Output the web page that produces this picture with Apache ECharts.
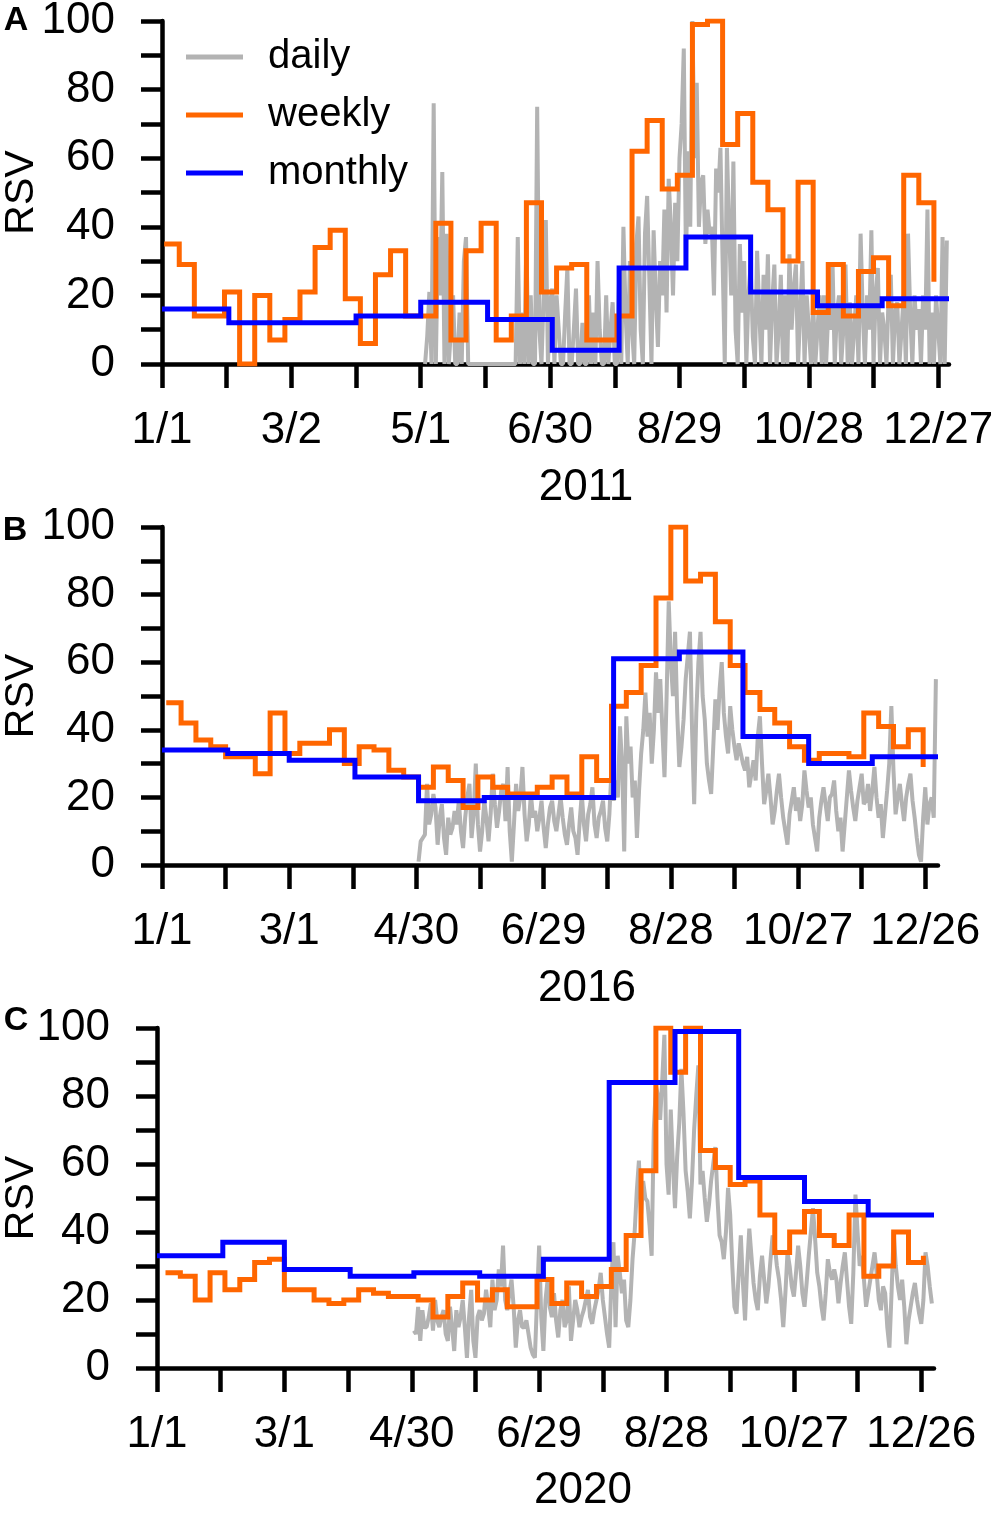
<!DOCTYPE html>
<html>
<head>
<meta charset="utf-8">
<script src="https://cdn.jsdelivr.net/npm/echarts@6/dist/echarts.min.js"></script>
<style>
  html, body { margin: 0; padding: 0; background: #fff; }
  #main { width: 995px; height: 1523px; }
</style>
</head>
<body>
<div id="main"></div>
<script>
// ---- data (day index: 0 = Jan 1) ----
const ticks2011 = ["1/1", "3/2", "5/1", "6/30", "8/29", "10/28", "12/27"];
const ticks2016 = ["1/1", "3/1", "4/30", "6/29", "8/28", "10/27", "12/26"];
const ticks2020 = ["1/1", "3/1", "4/30", "6/29", "8/28", "10/27", "12/26"];

const monthly2011 = [16, 12, 12, 14, 18, 13, 4, 28, 37, 21, 17, 19];
const monthly2016 = [34, 33, 31, 26, 19, 20, 20, 61, 63, 38, 30, 32];
const monthly2020 = [33, 37, 29, 27, 28, 27, 32, 84, 99, 56, 49, 45];

// one value per week, first one on the first Sunday of the year
const weekly2011 = [35, 29, 14, 14, 21, 0, 20, 7, 13, 21, 34, 39, 19, 6, 26, 33, 14, 14, 41, 7,
  33, 41, 7, 14, 47, 21, 28, 29, 7, 7, 14, 62, 71, 51, 55, 99, 100, 64, 73, 53,
  45, 30, 53, 15, 29, 14, 27, 31, 17, 55, 47, 24];
const weekly2016 = [48, 42, 37, 35, 32, 32, 27, 45, 33, 36, 36, 40, 30, 35, 34, 28, 26, 23, 29, 25,
  17, 26, 23, 21, 21, 23, 26, 21, 32, 25, 47, 51, 59, 79, 100, 84, 86, 72, 59, 51,
  46, 42, 35, 31, 33, 33, 32, 45, 41, 35, 40, 29];
const weekly2020 = [28, 27, 20, 28, 23, 26, 31, 32, 23, 23, 20, 19, 20, 23, 22, 21, 21, 20, 15, 21,
  25, 20, 23, 18, 18, 26, 19, 25, 21, 24, 29, 39, 58, 100, 87, 100, 64, 59, 54, 55,
  45, 34, 40, 46, 39, 36, 45, 27, 30, 40, 31, 33];

// daily values start at this day index
const dailyStart2011 = 122;
const daily2011 = [
  0, 8, 21, 0, 76, 0, 37, 20, 56, 0,
  38, 0, 10, 20, 0, 0, 15, 0, 30, 37,
  0, 0, 0, 0, 0, 0, 0, 0, 0, 0,
  0, 0, 0, 0, 0, 0, 0, 0, 0, 0,
  0, 0, 0, 37, 0, 15, 0, 36, 0, 20,
  0, 0, 75, 10, 0, 20, 42, 0, 18, 22,
  0, 20, 10, 0, 0, 15, 28, 0, 0, 10,
  22, 0, 0, 12, 0, 0, 20, 0, 15, 0,
  30, 10, 0, 0, 20, 0, 10, 18, 0, 0,
  25, 0, 40, 15, 0, 30, 10, 0, 35, 43,
  10, 0, 38, 49, 25, 0, 39, 20, 5, 30,
  20, 45, 15, 54, 40, 20, 47, 30, 60, 70,
  92, 30, 62, 40, 100, 60, 82, 40, 53, 55,
  35, 45, 38, 40, 20, 57, 50, 63, 30, 0,
  63, 40, 20, 59, 10, 0, 35, 15, 30, 0,
  20, 29, 8, 0, 33, 15, 0, 26, 10, 32,
  0, 18, 29, 0, 10, 26, 0, 20, 0, 32,
  10, 22, 29, 0, 15, 30, 0, 20, 10, 0,
  18, 0, 10, 20, 0, 20, 0, 15, 10, 29,
  0, 15, 20, 0, 10, 29, 0, 18, 0, 10,
  20, 0, 38, 15, 0, 20, 10, 39, 0, 20,
  28, 0, 15, 10, 0, 20, 26, 0, 15, 18,
  0, 10, 20, 0, 38, 15, 0, 20, 10, 16,
  0, 20, 10, 45, 0, 15, 0, 20, 10, 0,
  37, 0, 36
];
const dailyStart2016 = 121;
const daily2016 = [
  1, 7, 8, 9, 24, 12, 15, 21, 17, 6,
  14, 18, 8, 3, 14, 9, 11, 16, 12, 19,
  10, 5, 14, 20, 24, 8, 15, 30, 12, 4,
  10, 19, 14, 7, 15, 27, 18, 11, 16, 22,
  24, 13, 29, 10, 1, 12, 24, 16, 20, 29,
  15, 7, 12, 21, 14, 16, 10, 14, 19, 11,
  5, 12, 17, 19, 13, 10, 15, 20, 14, 9,
  6, 12, 17, 10, 8, 3, 13, 21, 12, 7,
  15, 18, 23, 12, 8, 14, 16, 19, 11, 7,
  15, 28, 19, 25, 20, 41, 30, 4, 44, 30,
  35, 20, 25, 8, 22, 33, 40, 51, 38, 45,
  30, 40, 57, 45, 55, 40, 26, 50, 78, 60,
  50, 69, 45, 29, 35, 43, 55, 62, 69, 40,
  18, 45, 60, 69, 50, 43, 30, 25, 21, 35,
  49, 40, 52, 60, 45, 38, 33, 47, 40, 35,
  31, 36, 33, 30, 28, 32, 23, 27, 31, 25,
  38, 44, 30, 18, 22, 27, 20, 12, 16, 22,
  27, 20, 14, 10, 6, 15, 19, 23, 16, 20,
  13, 18, 28, 22, 17, 20, 12, 8, 4, 14,
  19, 23, 18, 13, 20, 21, 25, 16, 10, 14,
  4, 12, 20, 28, 22, 17, 13, 19, 23, 27,
  18, 19, 24, 16, 22, 29, 20, 14, 18, 8,
  15, 22, 30, 47, 28, 15, 20, 24, 18, 13,
  20, 24, 27, 19, 14, 8, 3, 1, 14, 23,
  12, 18, 20, 14, 55
];
const dailyStart2020 = 121;
const daily2020 = [
  11, 10, 18, 8, 17, 12, 12, 15, 19, 11,
  20, 14, 12, 15, 17, 10, 8, 18, 12, 5,
  17, 12, 15, 20, 12, 3, 15, 23, 8, 3,
  15, 17, 14, 16, 23, 18, 12, 26, 17, 20,
  29, 24, 36, 20, 17, 22, 26, 18, 6, 14,
  17, 12, 12, 14, 10, 6, 4, 3, 20, 36,
  15, 5, 20, 26, 18, 15, 22, 14, 9, 17,
  20, 12, 14, 24, 8, 14, 20, 17, 12, 15,
  17, 20, 23, 15, 13, 17, 20, 23, 28, 20,
  15, 10, 6, 25, 37, 12, 33, 28, 22, 26,
  14, 12, 20, 32, 40, 52, 61, 45, 55, 50,
  49, 42, 33, 70, 83, 80, 73, 85, 98, 60,
  51, 76, 60, 47, 62, 72, 88, 75, 58, 52,
  44, 55, 70, 80, 89, 54, 58, 50, 43, 48,
  55, 60, 65, 50, 39, 37, 32, 40, 53, 45,
  30, 18, 16, 28, 39, 25, 14, 30, 41, 33,
  25, 20, 17, 27, 33, 26, 19, 24, 32, 39,
  36, 30, 26, 20, 12, 22, 34, 30, 24, 21,
  28, 36, 30, 22, 18, 25, 33, 40, 47, 38,
  28, 24, 18, 14, 22, 32, 28, 26, 29, 26,
  19, 25, 30, 34, 26, 18, 13, 28, 51, 40,
  30, 33, 26, 18, 22, 26, 30, 34, 28, 20,
  17, 24, 22, 12, 6, 22, 40, 30, 24, 20,
  26, 18, 7, 14, 18, 22, 25, 20, 16, 13,
  20, 34, 30, 24, 19
];

// ---- helpers ----
const FONT = '"Liberation Sans", Arial, sans-serif';
const GRAY = "#b3b3b3";
const ORANGE = "#ff6600";
const BLUE = "#0000ff";

// days since Jan 1 of `year`
function dayIndex(year, month, day) {
  return Math.round((Date.UTC(year, month, day) - Date.UTC(year, 0, 1)) / 864e5);
}

function yearLength(year) {
  return Math.round((Date.UTC(year + 1, 0, 1) - Date.UTC(year, 0, 1)) / 864e5);
}

function monthlyPoints(year, values) {
  const pts = values.map((v, m) => [dayIndex(year, m, 1), v]);
  pts.push([yearLength(year), values[values.length - 1]]);
  return pts;
}

function weeklyPoints(year, values) {
  const first = (7 - new Date(Date.UTC(year, 0, 1)).getUTCDay()) % 7;
  return values.map((v, i) => [first + 7 * i, v]);
}

function dailyPoints(start, values) {
  return values.map((v, i) => [start + i, v]);
}

const panels = [
  { year: 2011, letter: "A", ticks: ticks2011, monthly: monthly2011, weekly: weekly2011,
    daily: daily2011, dailyStart: dailyStart2011,
    grid: { left: 162, top: 21, width: 787, height: 343 }, letterPos: [16, 21], yearPos: [586, 488] },
  { year: 2016, letter: "B", ticks: ticks2016, monthly: monthly2016, weekly: weekly2016,
    daily: daily2016, dailyStart: dailyStart2016,
    grid: { left: 162, top: 527, width: 776, height: 338 }, letterPos: [15, 531], yearPos: [587, 989] },
  { year: 2020, letter: "C", ticks: ticks2020, monthly: monthly2020, weekly: weekly2020,
    daily: daily2020, dailyStart: dailyStart2020,
    grid: { left: 157, top: 1028, width: 777, height: 340 }, letterPos: [16, 1021], yearPos: [583, 1491] },
];

const chart = echarts.init(document.getElementById("main"));

const grids = [], xAxes = [], yAxes = [], series = [], graphics = [];

panels.forEach((p, i) => {
  grids.push(Object.assign({ outerBoundsMode: "none", containLabel: false }, p.grid));

  xAxes.push({
    type: "value", gridIndex: i, min: 0, max: yearLength(p.year),
    splitLine: { show: false },
    axisLine: { show: true, onZero: false, lineStyle: { color: "#000", width: 4.5 } },
    axisTick: { show: true, length: 24, lineStyle: { color: "#000", width: 4.5 },
      customValues: p.ticks.flatMap((t, k) => k < p.ticks.length - 1 ? [k * 60, k * 60 + 30] : [k * 60]) },
    axisLabel: { show: true, margin: 45, fontSize: 44, fontFamily: FONT, color: "#000",
      customValues: p.ticks.map((t, k) => k * 60),
      formatter: (v) => p.ticks[Math.round(v / 60)] },
  });

  yAxes.push({
    type: "value", gridIndex: i, min: 0, max: 100, interval: 10,
    splitLine: { show: false },
    axisLine: { show: true, lineStyle: { color: "#000", width: 4.5 } },
    axisTick: { show: true, length: 21, lineStyle: { color: "#000", width: 4.5 } },
    axisLabel: { show: true, margin: 47, fontSize: 44, fontFamily: FONT, color: "#000",
      customValues: [0, 20, 40, 60, 80, 100] },
  });

  series.push(
    { name: "daily", type: "line", xAxisIndex: i, yAxisIndex: i, symbol: "none",
      data: dailyPoints(p.dailyStart, p.daily),
      lineStyle: { color: GRAY, width: 4 }, itemStyle: { color: GRAY } },
    { name: "weekly", type: "line", xAxisIndex: i, yAxisIndex: i, symbol: "none", step: "end",
      data: weeklyPoints(p.year, p.weekly),
      lineStyle: { color: ORANGE, width: 5, join: "miter" }, itemStyle: { color: ORANGE } },
    { name: "monthly", type: "line", xAxisIndex: i, yAxisIndex: i, symbol: "none", step: "end",
      data: monthlyPoints(p.year, p.monthly),
      lineStyle: { color: BLUE, width: 5, join: "miter" }, itemStyle: { color: BLUE } }
  );

  graphics.push(
    { type: "text", x: p.letterPos[0], y: p.letterPos[1],
      style: { text: p.letter, font: "bold 34px " + FONT, fill: "#000", align: "center", verticalAlign: "middle" } },
    { type: "text", x: 22, y: p.grid.top + p.grid.height / 2, rotation: Math.PI / 2,
      style: { text: "RSV", font: "41px " + FONT, fill: "#000", align: "center", verticalAlign: "middle" } },
    { type: "text", x: p.yearPos[0], y: p.yearPos[1],
      style: { text: String(p.year), font: "44px " + FONT, fill: "#000", align: "center", verticalAlign: "middle" } }
  );
});

chart.setOption({
  animation: false,
  backgroundColor: "#fff",
  grid: grids,
  xAxis: xAxes,
  yAxis: yAxes,
  legend: {
    orient: "vertical", left: 186, top: 37, padding: 0,
    icon: "rect", itemWidth: 57, itemHeight: 5, itemGap: 18,
    selectedMode: false,
    data: ["daily", "weekly", "monthly"],
    textStyle: { fontSize: 40, fontFamily: FONT, color: "#000", lineHeight: 40, padding: [0, 0, 0, 20] },
  },
  series: series,
  graphic: graphics,
});
</script>
</body>
</html>
